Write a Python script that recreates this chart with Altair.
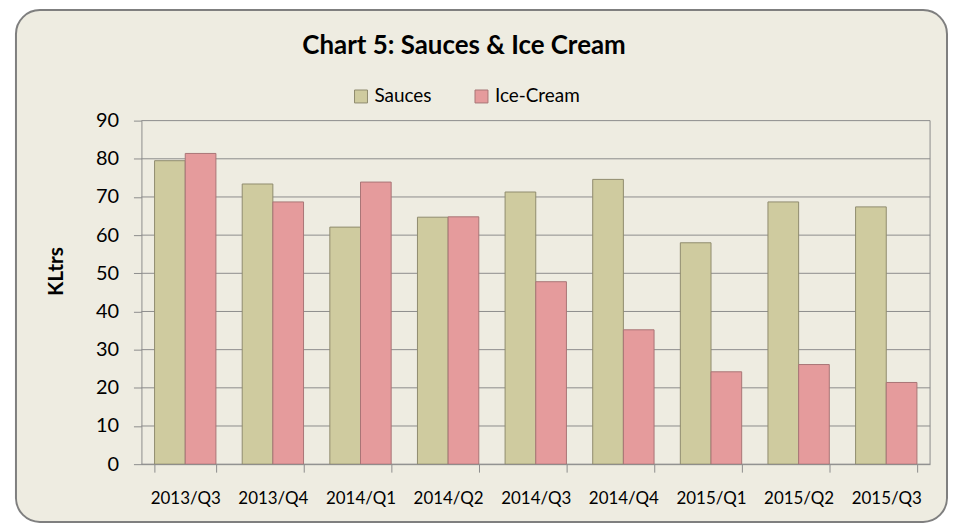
import altair as alt
import pandas as pd

categories = ["2013/Q3", "2013/Q4", "2014/Q1", "2014/Q2", "2014/Q3",
              "2014/Q4", "2015/Q1", "2015/Q2", "2015/Q3"]
sauces = [79.5, 73.4, 62.1, 64.7, 71.3, 74.6, 58.0, 68.7, 67.4]
ice_cream = [81.4, 68.7, 73.9, 64.8, 47.8, 35.2, 24.2, 26.1, 21.4]
series = ["Sauces", "Ice-Cream"]
y_ticks = [0, 10, 20, 30, 40, 50, 60, 70, 80, 90]

fills = ["#CFCB9F", "#E59B9C"]
edges = ["#8F8B6E", "#A87576"]

rows = []
for i, q in enumerate(categories):
    rows.append({"quarter": q, "series": "Sauces", "value": sauces[i]})
    rows.append({"quarter": q, "series": "Ice-Cream", "value": ice_cream[i]})
df = pd.DataFrame(rows)

W, H = 792, 345
FONT = "Lato"
GRAY = "#8C8C8C"

y_axis = alt.Axis(values=y_ticks, grid=False, title="KLtrs",
                  titleFont=FONT, titleFontSize=21, titleFontWeight="bold",
                  titleColor="#000000", titleX=-85.5, titleY=151,
                  titleAlign="center", titleBaseline="middle", titleAngle=270,
                  labelFont=FONT, labelFontSize=20, labelColor="#000000",
                  labelPadding=15, tickSize=8, tickColor=GRAY,
                  domainColor=GRAY, zindex=1)
y_scale = alt.Scale(domain=[0, 90])

frame = alt.Chart(pd.DataFrame({"k": [0]})).mark_rect(
    fill="#EEECE1", stroke="#7F7F7F", strokeWidth=2, cornerRadius=24
).encode(
    x=alt.value(-126), x2=alt.value(809), y=alt.value(-111), y2=alt.value(403)
)

grid = alt.Chart(pd.DataFrame({"value": y_ticks})).mark_rule(
    color=GRAY, strokeWidth=1
).encode(
    y=alt.Y("value:Q", axis=y_axis, scale=y_scale)
)

right_border = alt.Chart(pd.DataFrame({"k": [0]})).mark_rule(
    color=GRAY, strokeWidth=1
).encode(
    x=alt.value(W), y=alt.value(0), y2=alt.value(H)
)

bars = alt.Chart(df).mark_bar(strokeWidth=1).encode(
    x=alt.X("quarter:N", sort=categories,
            scale=alt.Scale(paddingInner=0.3, paddingOuter=0.15),
            axis=alt.Axis(title=None, labelAngle=0, tickBand="extent",
                          labelFont=FONT, labelFontSize=17, labelColor="#000000",
                          labelPadding=19, tickSize=8, tickColor=GRAY,
                          domainColor=GRAY, grid=False, zindex=1)),
    xOffset=alt.XOffset("series:N", sort=series),
    y=alt.Y("value:Q", scale=y_scale, axis=y_axis),
    color=alt.Color("series:N", sort=series,
                    scale=alt.Scale(domain=series, range=fills),
                    legend=alt.Legend(title=None, orient="none", direction="horizontal",
                                      legendX=211, legendY=-34,
                                      symbolType="square", symbolSize=169,
                                      symbolStrokeWidth=1, symbolStrokeColor="#9A9A9A",
                                      labelFont=FONT, labelFontSize=19,
                                      labelColor="#000000", labelOffset=4,
                                      columnPadding=40)),
    stroke=alt.Stroke("series:N", sort=series,
                      scale=alt.Scale(domain=series, range=edges), legend=None),
)

chart = alt.layer(frame, grid, right_border, bars).properties(
    width=W, height=H,
    title=alt.Title("Chart 5: Sauces & Ice Cream", font=FONT, fontSize=26,
                    fontWeight="bold", color="#000000", anchor="middle",
                    frame="group", baseline="alphabetic", offset=0,
                    dx=-72, dy=71),
    padding={"left": 134, "top": 112, "right": 18, "bottom": 61},
    autosize=alt.AutoSizeParams(type="none"),
).configure_view(stroke=None).configure(background="white")

chart.save("out.html", embed_options={"renderer": "svg", "actions": False})
